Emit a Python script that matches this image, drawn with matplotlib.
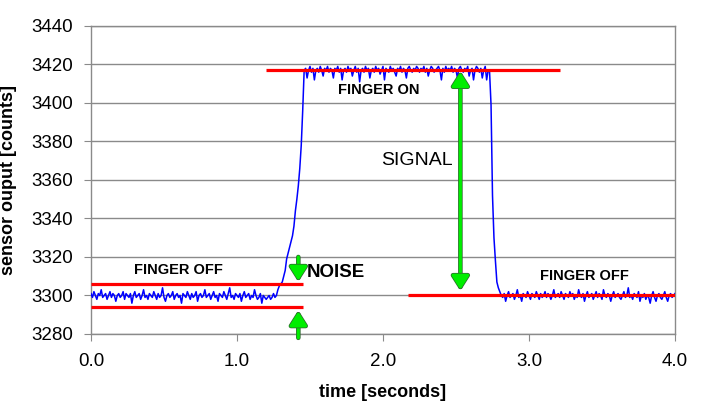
import numpy as np
import matplotlib
matplotlib.use("Agg")
import matplotlib.pyplot as plt
import matplotlib.patheffects as pe

plt.rcParams['font.family'] = ['Liberation Sans', 'DejaVu Sans']

dt = 0.01  # sample interval [s]

# sensor counts
off_start = [
    3301, 3299, 3302, 3300, 3298, 3301, 3300, 3303, 3299, 3300, 3301, 3298, 3300, 3302, 3299, 3301, 3300, 3297, 3300, 3301,
    3299, 3300, 3302, 3298, 3301, 3300, 3299, 3301, 3296, 3300, 3302, 3299, 3300, 3301, 3298, 3300, 3303, 3299, 3300, 3298,
    3301, 3300, 3299, 3302, 3300, 3298, 3301, 3299, 3300, 3304, 3299, 3297, 3300, 3301, 3299, 3300, 3302, 3298, 3300, 3301,
    3299, 3300, 3296, 3301, 3300, 3299, 3302, 3300, 3298, 3301, 3299, 3300, 3302, 3297, 3300, 3301, 3299, 3300, 3303, 3299,
    3300, 3301, 3298, 3300, 3302, 3299, 3300, 3297, 3301, 3300, 3299, 3302, 3300, 3298, 3301, 3304, 3299, 3300, 3298, 3301,
    3300, 3299, 3301, 3297, 3300, 3302, 3299, 3300, 3301, 3298, 3300, 3299, 3303, 3300, 3298, 3299, 3301, 3296, 3300, 3299,
    3298, 3299, 3300, 3298, 3299, 3301, 3299,
]
rise = [3300, 3303, 3305, 3306, 3307, 3310, 3313, 3319, 3322, 3325,
        3328, 3331, 3336, 3344, 3350, 3357, 3366, 3378, 3396]
finger_on = [
    3417, 3418, 3413, 3417, 3419, 3416, 3418, 3412, 3417, 3418, 3416, 3419, 3417, 3414, 3418, 3417, 3419, 3416, 3418, 3417,
    3413, 3418, 3417, 3419, 3416, 3418, 3412, 3417, 3418, 3416, 3419, 3417, 3418, 3414, 3417, 3419, 3416, 3418, 3411, 3417,
    3418, 3416, 3419, 3417, 3418, 3413, 3417, 3418, 3416, 3419, 3417, 3418, 3415, 3417, 3419, 3412, 3418, 3417, 3416, 3419,
    3417, 3418, 3416, 3414, 3418, 3417, 3419, 3416, 3418, 3417, 3413, 3418, 3419, 3417, 3416, 3418, 3417, 3419, 3418, 3416,
    3418, 3417, 3419, 3416, 3418, 3414, 3417, 3419, 3418, 3416, 3417, 3418, 3419, 3417, 3412, 3418, 3416, 3419, 3417, 3418,
    3417, 3419, 3416, 3418, 3417, 3413, 3418, 3419, 3417, 3416, 3418, 3417, 3419, 3414, 3417, 3418, 3412, 3417, 3419, 3418,
    3416, 3418, 3413, 3417, 3419, 3412, 3417,
]
fall = [3416, 3399, 3352, 3330, 3318, 3307, 3304]
off_end = [
    3302, 3300, 3299, 3301, 3297, 3300, 3302, 3299, 3300, 3301, 3298, 3300, 3303, 3299, 3300, 3297, 3301, 3300, 3299, 3302,
    3300, 3298, 3301, 3300, 3299, 3302, 3300, 3298, 3301, 3299, 3300, 3302, 3299, 3301, 3300, 3298, 3300, 3303, 3299, 3300,
    3301, 3299, 3302, 3300, 3298, 3301, 3300, 3299, 3302, 3300, 3301, 3298, 3300, 3299, 3303, 3300, 3299, 3301, 3297, 3300,
    3302, 3299, 3300, 3301, 3298, 3300, 3302, 3299, 3301, 3300, 3298, 3303, 3300, 3299, 3301, 3300, 3297, 3300, 3302, 3299,
    3300, 3301, 3299, 3298, 3300, 3302, 3299, 3300, 3304, 3299, 3300, 3298, 3301, 3300, 3299, 3302, 3297, 3300, 3299, 3301,
    3298, 3300, 3299, 3296, 3300, 3302, 3299, 3297, 3300, 3301, 3299, 3298, 3300, 3302, 3299, 3297, 3300, 3301, 3299, 3300,
    3301,
]

counts = np.array(off_start + rise + finger_on + fall + off_end)
t = np.arange(len(counts)) * dt

# reference levels and their spans
noise_hi, noise_lo = 3306, 3294
on_level, off_level = 3417, 3300
noise_span = (0.0, 1.45)
on_span = (1.2, 3.21)
off_span = (2.17, 4.0)

yticks = [3280, 3300, 3320, 3340, 3360, 3380, 3400, 3420, 3440]
xticks = [0, 1, 2, 3, 4]
xticklabels = ['0.0', '1.0', '2.0', '3.0', '4.0']

fig = plt.figure(figsize=(7.05, 4.15), dpi=100)
ax = fig.add_axes([91/705, 81/415, 584/705, 308/415])

grey = '#8a8a8a'
ax.plot(t, counts, color='#0000ff', lw=1.1, zorder=3)

red = dict(color='#ff0000', lw=2.3, zorder=4, solid_capstyle='butt')
ax.plot(noise_span, [noise_hi, noise_hi], **red)
ax.plot(noise_span, [noise_lo, noise_lo], **red)
ax.plot(on_span, [on_level, on_level], **red)
ax.plot(off_span, [off_level, off_level], **red)

green = '#00ee00'
def arrow(style):
    return dict(arrowstyle=style + ',head_length=0.6,head_width=0.38',
                mutation_scale=14, lw=2.2, color=green, shrinkA=0, shrinkB=0,
                path_effects=[pe.withStroke(linewidth=3.3, foreground='#2e6b2e')])

ax.annotate('', xy=(2.53, on_level - 1), xytext=(2.53, off_level + 3),
            arrowprops=arrow('<|-|>'), zorder=6)
ax.annotate('', xy=(1.42, noise_hi + 1.7), xytext=(1.42, 3320),
            arrowprops=arrow('-|>'), zorder=6)
ax.annotate('', xy=(1.42, noise_lo - 2.3), xytext=(1.42, 3278),
            arrowprops=arrow('-|>'), zorder=6, annotation_clip=False)

ax.text(0.6, 3313, 'FINGER OFF', fontsize=10.5, fontweight='bold', ha='center', va='center')
ax.text(1.48, 3312, 'NOISE', fontsize=13.5, fontweight='bold', ha='left', va='center')
ax.text(1.97, 3406.5, 'FINGER ON', fontsize=10.5, fontweight='bold', ha='center', va='center')
ax.text(2.23, 3370, 'SIGNAL', fontsize=14, ha='center', va='center')
ax.text(3.38, 3310, 'FINGER OFF', fontsize=10.5, fontweight='bold', ha='center', va='center')

ax.set_xlim(0, 4)
ax.set_ylim(3280, 3440)
ax.set_yticks(yticks)
ax.set_xticks(xticks)
ax.set_xticklabels(xticklabels)
ax.yaxis.grid(True, color=grey, lw=1.0)
ax.set_axisbelow(True)
for s in ax.spines.values():
    s.set_color(grey)
    s.set_linewidth(1.0)
ax.tick_params(axis='both', direction='out', length=5, color=grey, labelsize=13.5)
ax.tick_params(axis='y', pad=8)
ax.tick_params(axis='x', pad=9)

ax.set_xlabel('time [seconds]', fontsize=13, fontweight='bold', labelpad=10)
ax.set_ylabel('sensor ouput [counts]', fontsize=13, fontweight='bold', labelpad=10)

fig.savefig('out.png', dpi=100)
